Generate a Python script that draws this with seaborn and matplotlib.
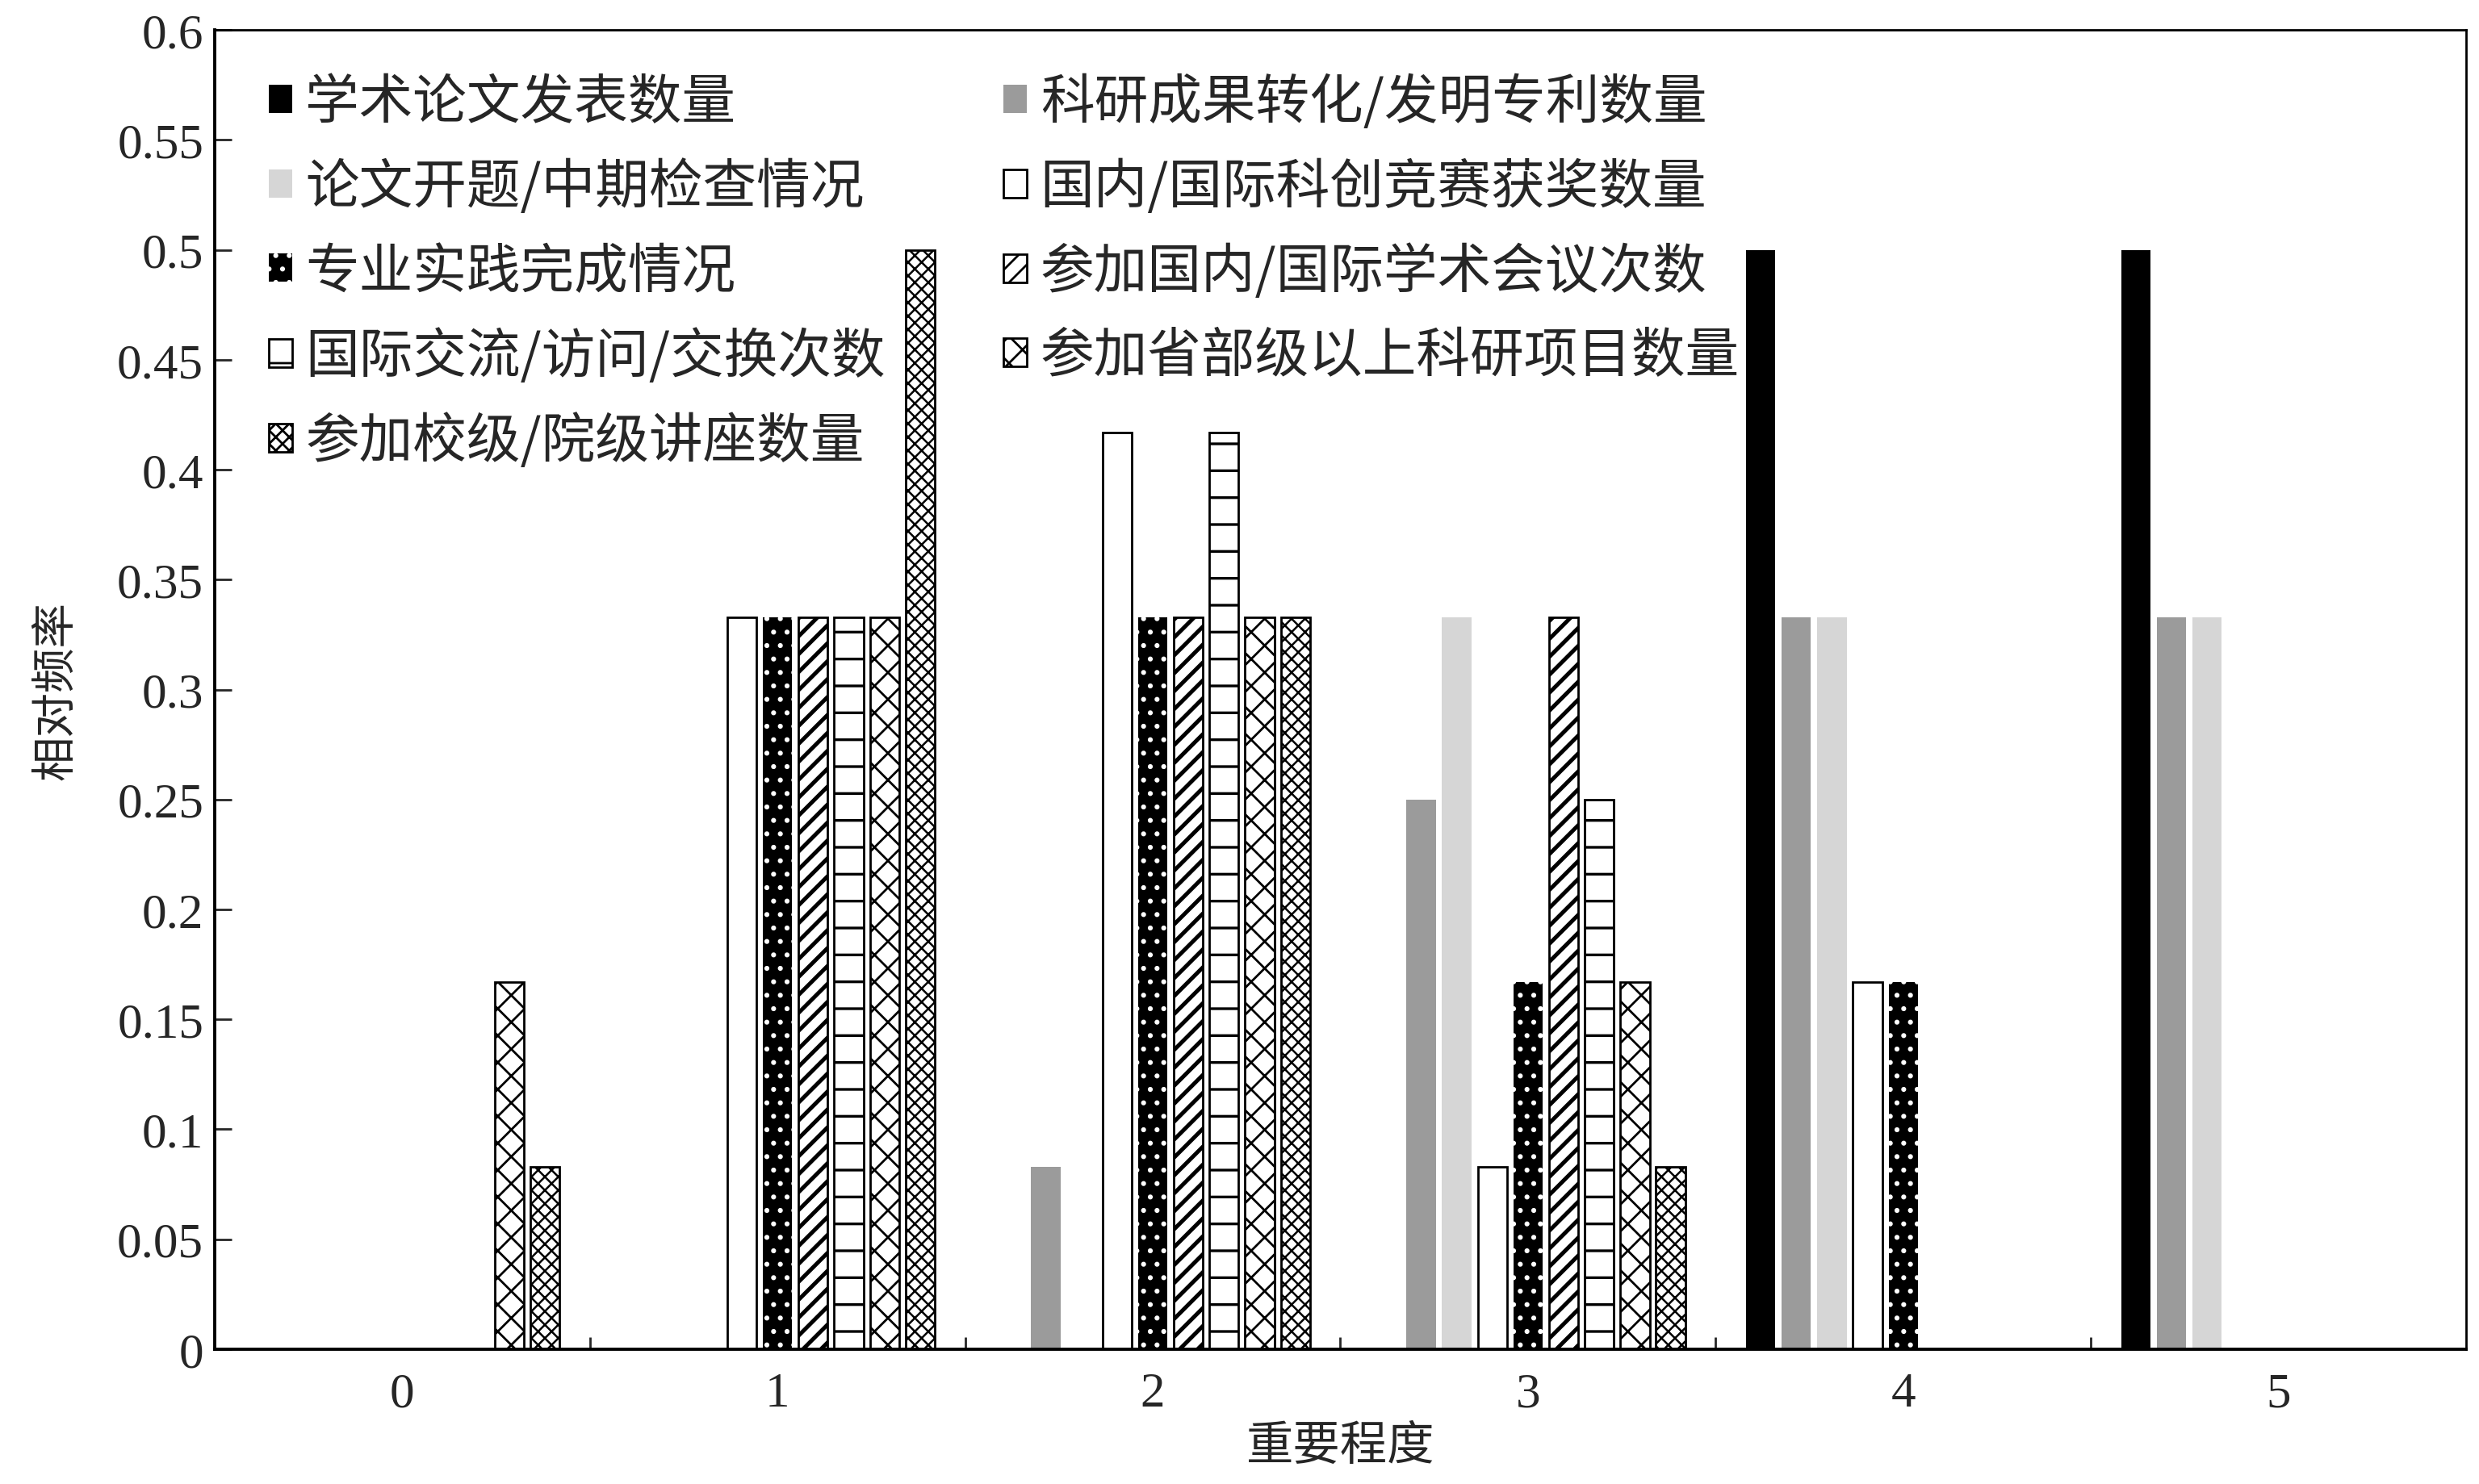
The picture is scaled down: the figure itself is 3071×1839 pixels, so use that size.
import pandas as pd
import matplotlib
matplotlib.use("Agg")
import matplotlib.pyplot as plt
from matplotlib.patches import Patch
import seaborn as sns

# 数据
levels = ["0", "1", "2", "3", "4", "5"]
series_names = [
    "学术论文发表数量",
    "科研成果转化/发明专利数量",
    "论文开题/中期检查情况",
    "国内/国际科创竞赛获奖数量",
    "专业实践完成情况",
    "参加国内/国际学术会议次数",
    "国际交流/访问/交换次数",
    "参加省部级以上科研项目数量",
    "参加校级/院级讲座数量",
]
s1 = [0, 0, 0, 0, 0.5, 0.5]
s2 = [0, 0, 0.083, 0.25, 0.333, 0.333]
s3 = [0, 0, 0, 0.333, 0.333, 0.333]
s4 = [0, 0.333, 0.417, 0.083, 0.167, 0]
s5 = [0, 0.333, 0.333, 0.167, 0.167, 0]
s6 = [0, 0.333, 0.333, 0.333, 0, 0]
s7 = [0, 0.333, 0.417, 0.25, 0, 0]
s8 = [0.167, 0.333, 0.333, 0.167, 0, 0]
s9 = [0.083, 0.5, 0.333, 0.083, 0, 0]
values = [s1, s2, s3, s4, s5, s6, s7, s8, s9]

rows = []
for name, vals in zip(series_names, values):
    for lv, v in zip(levels, vals):
        rows.append({"重要程度": lv, "系列": name, "相对频率": v})
df = pd.DataFrame(rows)

# 样式: 填充色, 边线色, 填充图案, 线宽, 图案线宽
styles = [
    ("black", "black", None, 0.0, 1.0),
    ("#9b9b9b", "#9b9b9b", None, 0.0, 1.0),
    ("#d6d6d6", "#d6d6d6", None, 0.0, 1.0),
    ("white", "black", None, 1.0, 1.0),
    ("black", "white", "..", 0.0, 1.0),
    ("white", "black", "///", 1.0, 1.8),
    ("white", "black", "-", 1.0, 1.2),
    ("white", "black", "xx", 1.0, 1.0),
    ("white", "black", "xxxx", 1.0, 0.9),
]

sns.set_theme(style="ticks")
plt.rcParams["font.family"] = ["Liberation Serif", "Noto Sans CJK SC", "DejaVu Sans"]
plt.rcParams["hatch.linewidth"] = 1.0
plt.rcParams["xtick.direction"] = "in"
plt.rcParams["ytick.direction"] = "in"

fig = plt.figure(figsize=(15.355, 9.2), dpi=200)
ax = fig.add_axes([0.0866, 0.0908, 0.9082, 0.8885])

sns.barplot(
    data=df, x="重要程度", y="相对频率", hue="系列",
    order=levels, hue_order=series_names,
    width=0.855, gap=0.18, legend=False, ax=ax,
)


def apply_style(p, st):
    fc, ec, ht, lw, hlw = st
    p.set_facecolor(fc)
    p.set_edgecolor(ec)
    p.set_linewidth(lw)
    p.set_hatch(ht)
    if hasattr(p, "set_hatch_linewidth"):
        p.set_hatch_linewidth(hlw)


for cont, st in zip(ax.containers, styles):
    for bar in cont:
        apply_style(bar, st)
        if bar.get_height() == 0:
            bar.set_visible(False)

ax.set_xlim(-0.5, 5.5)
ax.set_ylim(0, 0.6)
ax.set_yticks([i * 0.05 for i in range(13)])
ax.set_yticklabels(["0", "0.05", "0.1", "0.15", "0.2", "0.25", "0.3", "0.35",
                    "0.4", "0.45", "0.5", "0.55", "0.6"])
ax.set_xticks([0.5, 1.5, 2.5, 3.5, 4.5], minor=True)
ax.tick_params(axis="x", which="major", length=0, pad=10, labelsize=22)
ax.tick_params(axis="x", which="minor", length=5.5, width=1.0)
ax.tick_params(axis="y", which="major", length=7.5, width=1.0, pad=5, labelsize=22)
for sp in ax.spines.values():
    sp.set_visible(True)
    sp.set_linewidth(1.0)
    sp.set_color("black")
ax.spines["left"].set_linewidth(1.4)
ax.spines["bottom"].set_linewidth(1.4)

ax.set_xlabel("重要程度", fontsize=21, labelpad=2, family=["Noto Sans CJK SC"])
ax.set_ylabel("相对频率", fontsize=20, labelpad=17, family=["Noto Sans CJK SC"])

# 图例: 按行排列 (列优先填充)
handles = []
for st in styles:
    h = Patch()
    apply_style(h, st)
    handles.append(h)
order = [0, 2, 4, 6, 8, 1, 3, 5, 7]
leg = ax.legend(
    [handles[i] for i in order], [series_names[i] for i in order],
    ncol=2, loc="upper left", bbox_to_anchor=(0.024, 0.966),
    frameon=False, borderpad=0, borderaxespad=0,
    handlelength=0.43, handleheight=0.43, handletextpad=0.25,
    labelspacing=0.55, columnspacing=2.2,
    prop={"family": ["Noto Sans CJK SC"], "size": 24},
)

fig.savefig("out.png", dpi=200)
